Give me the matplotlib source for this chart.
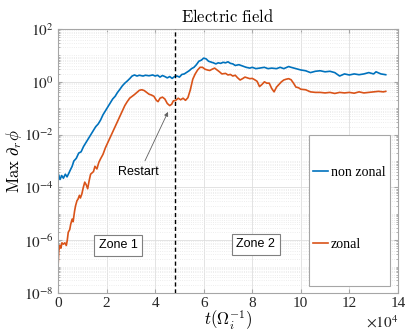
import numpy as np
import matplotlib
matplotlib.use('Agg')
import matplotlib.pyplot as plt
import matplotlib.patches as patches
from matplotlib.ticker import FixedLocator, NullFormatter

# ---- data (time in units of 1e4 / Omega_i, values as log10 of Max d_r phi) ----
t_nonzonal = [0.0, 0.08, 0.15, 0.22, 0.3, 0.37, 0.45, 0.5, 0.58, 0.65, 0.75, 0.85, 0.95,
              1.05, 1.15, 1.25, 1.35, 1.45, 1.55, 1.65, 1.75, 1.85, 1.95, 2.05, 2.15, 2.25,
              2.35, 2.45, 2.55, 2.65, 2.75, 2.85, 2.95, 3.05, 3.15, 3.25, 3.35, 3.5, 3.6,
              3.75, 3.9, 4.0, 4.1, 4.2, 4.3, 4.4, 4.5, 4.6, 4.7, 4.8, 4.9, 5.0, 5.1, 5.2,
              5.3, 5.4, 5.5, 5.6, 5.7, 5.8, 5.9, 6.0, 6.1, 6.2, 6.3, 6.4, 6.5, 6.6, 6.7,
              6.8, 6.9, 7.0, 7.1, 7.2, 7.3, 7.45, 7.6, 7.75, 7.9, 8.0, 8.15, 8.3, 8.5,
              8.65, 8.8, 9.0, 9.15, 9.3, 9.5, 9.6, 9.8, 10.0, 10.2, 10.4, 10.6, 10.8,
              11.0, 11.2, 11.4, 11.6, 11.8, 12.0, 12.2, 12.4, 12.6, 12.8, 13.0, 13.1,
              13.3, 13.5]
nonzonal_log10 = [-3.45, -3.7, -3.55, -3.65, -3.5, -3.6, -3.45, -3.35, -3.2, -3.0, -2.9,
                  -2.7, -2.65, -2.45, -2.3, -2.15, -2.0, -1.85, -1.7, -1.6, -1.45, -1.25,
                  -1.1, -0.95, -0.8, -0.65, -0.55, -0.4, -0.28, -0.15, -0.05, 0.03, 0.12,
                  0.22, 0.26, 0.22, 0.25, 0.22, 0.25, 0.23, 0.26, 0.22, 0.25, 0.18, 0.24,
                  0.2, 0.15, 0.2, 0.13, 0.2, 0.22, 0.18, 0.28, 0.3, 0.36, 0.42, 0.5, 0.55,
                  0.65, 0.78, 0.82, 0.9, 0.87, 0.78, 0.75, 0.72, 0.68, 0.72, 0.7, 0.74,
                  0.72, 0.76, 0.7, 0.68, 0.62, 0.65, 0.6, 0.55, 0.52, 0.55, 0.5, 0.52,
                  0.55, 0.5, 0.52, 0.5, 0.55, 0.5, 0.58, 0.55, 0.5, 0.45, 0.42, 0.35, 0.4,
                  0.42, 0.38, 0.4, 0.35, 0.22, 0.3, 0.26, 0.3, 0.27, 0.3, 0.35, 0.3, 0.38,
                  0.3, 0.27]

t_zonal = [0.0, 0.03, 0.08, 0.12, 0.16, 0.22, 0.28, 0.34, 0.38, 0.42, 0.48, 0.52, 0.58,
           0.62, 0.68, 0.72, 0.78, 0.82, 0.88, 0.92, 0.98, 1.04, 1.1, 1.16, 1.22, 1.28,
           1.34, 1.4, 1.46, 1.52, 1.6, 1.68, 1.76, 1.85, 1.95, 2.05, 2.15, 2.25, 2.35,
           2.45, 2.55, 2.65, 2.75, 2.85, 2.95, 3.05, 3.15, 3.25, 3.35, 3.45, 3.55, 3.65,
           3.75, 3.85, 3.95, 4.05, 4.12, 4.2, 4.3, 4.4, 4.5, 4.6, 4.68, 4.75, 4.85, 4.95,
           5.05, 5.15, 5.25, 5.35, 5.45, 5.55, 5.65, 5.75, 5.85, 5.95, 6.05, 6.15, 6.25,
           6.35, 6.45, 6.55, 6.65, 6.75, 6.9, 7.0, 7.1, 7.2, 7.3, 7.4, 7.5, 7.6, 7.7,
           7.8, 7.9, 8.0, 8.1, 8.2, 8.3, 8.4, 8.5, 8.6, 8.7, 8.8, 8.9, 9.0, 9.1, 9.2,
           9.3, 9.4, 9.5, 9.6, 9.7, 9.8, 9.9, 10.0, 10.2, 10.4, 10.6, 10.8, 11.0, 11.2,
           11.4, 11.6, 11.8, 12.0, 12.2, 12.4, 12.6, 12.8, 13.0, 13.2, 13.4, 13.5]
zonal_log10 = [-7.0, -6.4, -6.2, -6.3, -6.1, -6.15, -6.1, -6.2, -6.0, -5.7, -5.6, -5.4,
               -5.2, -5.3, -4.9, -4.7, -4.5, -4.45, -4.3, -4.4, -4.25, -4.0, -3.8, -3.9,
               -4.05, -3.75, -3.5, -3.45, -3.4, -3.2, -3.3, -3.05, -2.9, -2.75, -2.5,
               -2.3, -2.1, -1.9, -1.7, -1.5, -1.3, -1.1, -0.9, -0.75, -0.62, -0.55,
               -0.48, -0.4, -0.32, -0.3, -0.33, -0.4, -0.47, -0.5, -0.55, -0.7, -0.75,
               -0.62, -0.58, -0.65, -0.82, -0.9, -0.85, -0.72, -0.7, -0.62, -0.68,
               -0.62, -0.7, -0.6, -0.3, 0.1, 0.3, 0.45, 0.55, 0.55, 0.48, 0.45, 0.43,
               0.48, 0.52, 0.45, 0.38, 0.3, 0.32, 0.26, 0.28, 0.22, 0.25, 0.15, 0.07,
               0.12, 0.18, 0.15, 0.12, 0.13, 0.08, 0.02, -0.18, -0.1, 0.0, -0.05, -0.05,
               -0.25, -0.38, -0.2, -0.1, 0.0, 0.07, 0.1, 0.12, 0.08, -0.05, -0.2, -0.22,
               -0.28, -0.3, -0.38, -0.4, -0.4, -0.42, -0.4, -0.44, -0.4, -0.42, -0.4,
               -0.43, -0.38, -0.42, -0.4, -0.38, -0.36, -0.38, -0.36]

restart_t = 4.8
xtick_vals = [0, 2, 4, 6, 8, 10, 12, 14]
ytick_exps = [-8, -6, -4, -2, 0, 2]
series_labels = ['non zonal', 'zonal']

# ---- figure ----
fig = plt.figure(figsize=(4.06, 3.32), dpi=100)
ax = fig.add_axes([0.143, 0.1175, 0.837, 0.795])

c_blue = '#0072BD'
c_orange = '#D95319'
edge = '#a6a6a6'

l1, = ax.plot(t_nonzonal, 10.0 ** np.array(nonzonal_log10), color=c_blue, lw=1.2,
              label=series_labels[0], zorder=2)
l2, = ax.plot(t_zonal, 10.0 ** np.array(zonal_log10), color=c_orange, lw=1.2,
              label=series_labels[1], zorder=2)

ax.axvline(restart_t, color='k', ls='--', lw=1.0, dashes=(3, 2), zorder=3)

ax.set_yscale('log')
ax.set_xlim(0, 14)
ax.set_ylim(1e-8, 1e2)

# ticks
ax.set_xticks(xtick_vals)
ax.set_xticklabels([str(v) for v in xtick_vals], family='Liberation Serif', fontsize=11,
                   color='#262626')
ax.set_yticks([10.0 ** e for e in ytick_exps])
ylabs = ax.set_yticklabels([r'$10^{%d}$' % e for e in ytick_exps], fontsize=11,
                           color='#262626')
for lab in ylabs:
    lab.set_math_fontfamily('stix')
minor = [m * 10.0 ** k for k in range(-8, 2) for m in range(1, 10)]
minor = [v for v in minor if v not in [10.0 ** e for e in ytick_exps]]
ax.yaxis.set_minor_locator(FixedLocator(minor))
ax.yaxis.set_minor_formatter(NullFormatter())
ax.tick_params(which='both', direction='in', top=True, right=True, color=edge)
ax.tick_params(which='major', length=3, pad=3)
ax.tick_params(which='minor', length=1.5)

for s in ax.spines.values():
    s.set_color(edge)
    s.set_linewidth(0.8)

ax.grid(which='major', color='#dedede', lw=0.6)
ax.grid(which='minor', axis='y', color='#e8e8e8', ls=':', lw=0.6)
ax.set_axisbelow(True)

# labels
ax.set_title(r'$\mathrm{Electric\ field}$', fontsize=12, math_fontfamily='cm', pad=5)
ax.set_ylabel(r'$\mathrm{Max}\ \partial_r\phi$', fontsize=12, math_fontfamily='cm')
ax.yaxis.set_label_coords(-0.1, 0.5)
ax.set_xlabel(r'$t(\Omega_i^{-1})$', fontsize=12, math_fontfamily='cm')
ax.xaxis.set_label_coords(0.5, -0.06)
ax.text(1.0, -0.11, r'$\times 10^4$', transform=ax.transAxes, ha='right', va='center',
        fontsize=11, math_fontfamily='stix', color='#262626')

# zone labels
zbox = dict(boxstyle='square,pad=0.35', fc='white', ec='#808080', lw=0.8)
ax.text(2.47, 10 ** -6.2, 'Zone 1', ha='center', va='center', fontsize=9,
        family='Liberation Sans', bbox=zbox, zorder=4)
ax.text(8.15, 10 ** -6.16, 'Zone 2', ha='center', va='center', fontsize=9,
        family='Liberation Sans', bbox=zbox, zorder=4)

# restart arrow
ax.annotate('Restart', xy=(4.53, 10 ** -1.14), xytext=(3.31, 10 ** -3.42),
            ha='center', va='center', fontsize=9, family='Liberation Sans',
            arrowprops=dict(arrowstyle='-|>', color='#606060', lw=0.6,
                            mutation_scale=6, relpos=(0.6, 1.0), shrinkA=2, shrinkB=0),
            zorder=4)

# legend box (manually sized, like the original)
box = patches.Rectangle((0.738, 0.0265), 0.238, 0.5715, transform=ax.transAxes,
                        fc='white', ec=edge, lw=0.8, zorder=4)
ax.add_patch(box)
leg = ax.legend(handles=[l1, l2], loc='upper left', bbox_to_anchor=(0.75, 0.481),
                frameon=False, borderpad=0, borderaxespad=0, labelspacing=4.25,
                handlelength=1.1, handletextpad=0.2,
                prop={'family': 'Liberation Serif', 'size': 10})
leg.set_zorder(5)

fig.savefig('out.png', dpi=100, facecolor='white')
